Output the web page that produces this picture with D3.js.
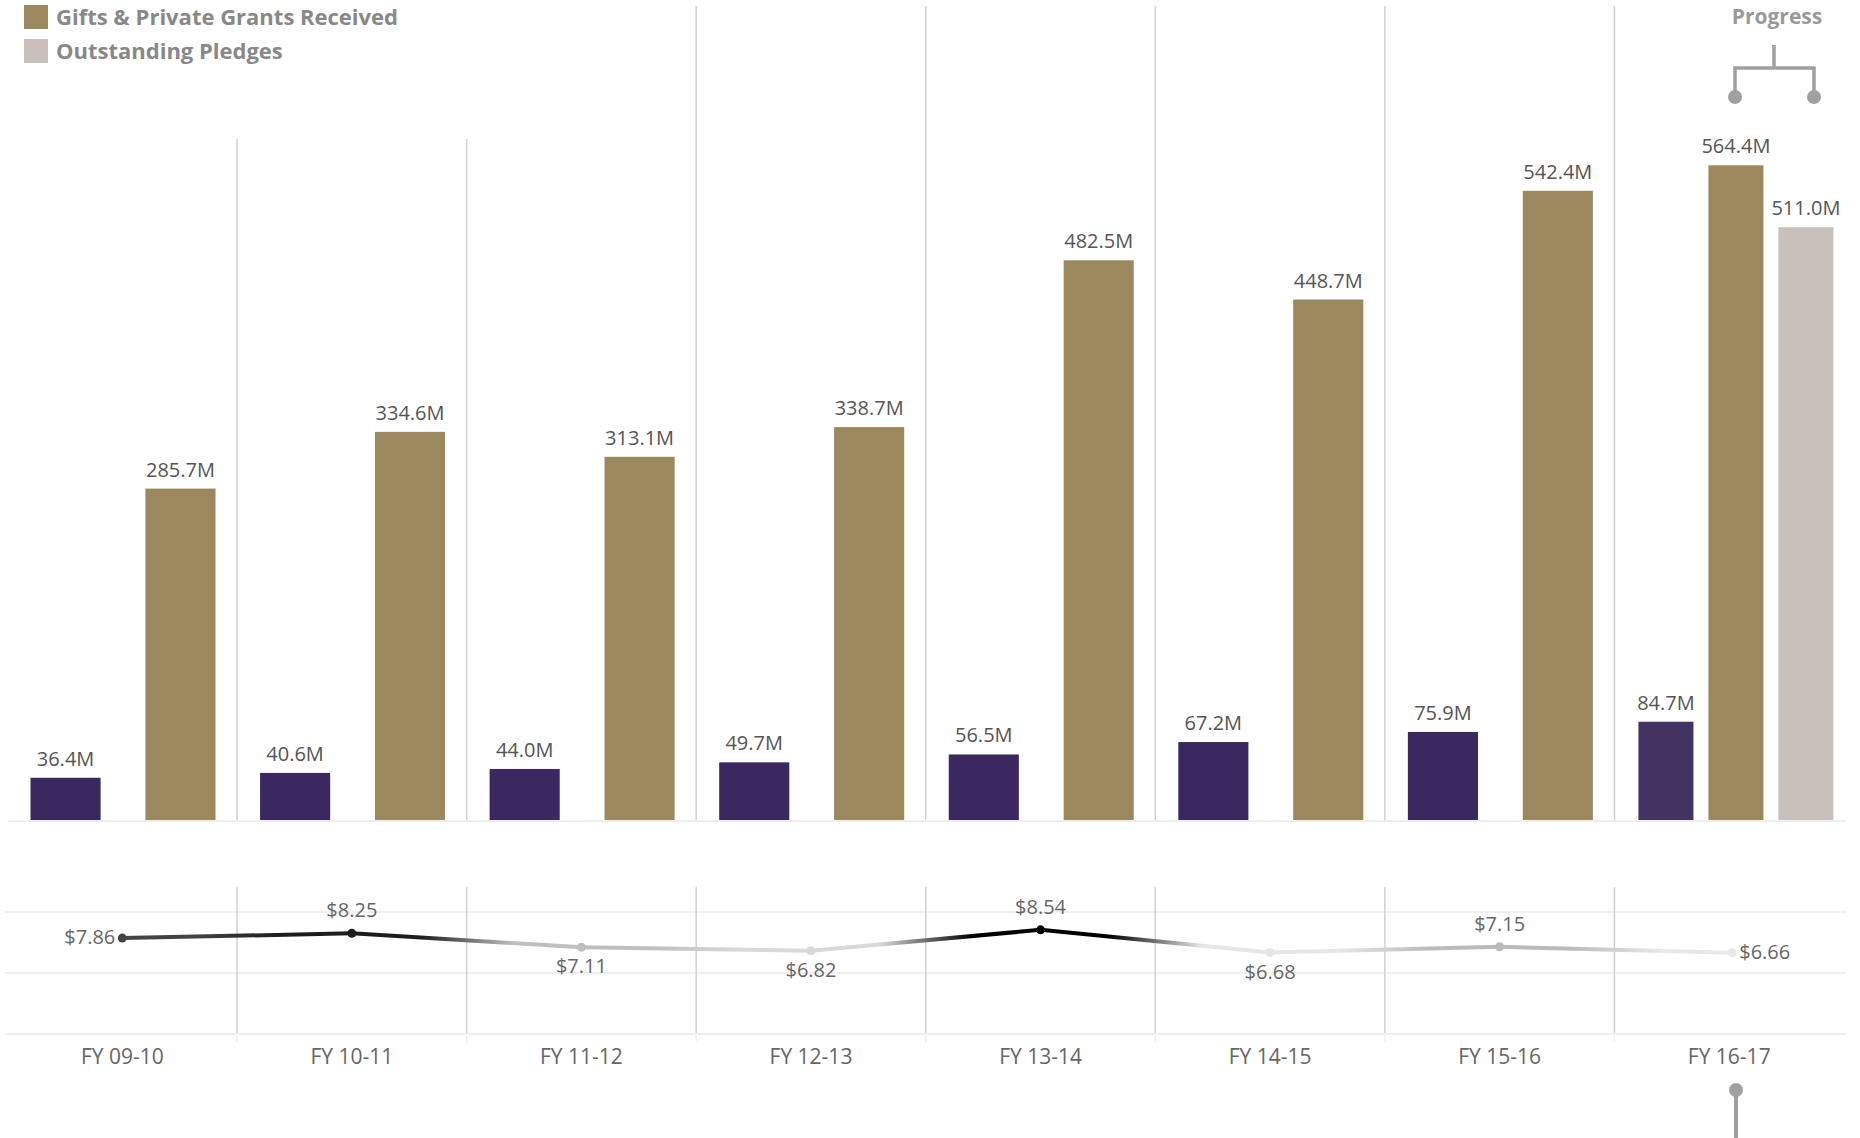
<!DOCTYPE html>
<html>
<head>
<meta charset="utf-8">
<script src="https://cdn.jsdelivr.net/npm/d3@7"></script>
<style>
  body { margin: 0; background: #fff; }
  svg { display: block; font-family: "Open Sans", sans-serif; }
</style>
</head>
<body>
<svg id="chart" width="1860" height="1138"></svg>
<script>
const categories = ["FY 09-10", "FY 10-11", "FY 11-12", "FY 12-13", "FY 13-14", "FY 14-15", "FY 15-16", "FY 16-17"];
const purpleValues = [36.4, 40.6, 44.0, 49.7, 56.5, 67.2, 75.9, 84.7];
const giftsReceived = [285.7, 334.6, 313.1, 338.7, 482.5, 448.7, 542.4, 564.4];
const outstandingPledges = [null, null, null, null, null, null, null, 511.0];
const ratioValues = [7.86, 8.25, 7.11, 6.82, 8.54, 6.68, 7.15, 6.66];
const ratioTicks = [0, 5, 10];

const legendItems = [
  { label: "Gifts & Private Grants Received", color: "#9b885d" },
  { label: "Outstanding Pledges", color: "#c8c0ba" }
];

const svg = d3.select("#chart");

const x = d3.scaleBand().domain(categories).range([7.5, 1844]).padding(0);
const y = d3.scaleLinear().domain([0, 600]).range([820, 124]);
const yLine = d3.scaleLinear().domain([0, 10]).range([1034, 912]);

const inner2 = d3.scaleBand().domain(["purple", "gift"]).range([23, 208]).paddingInner(0.39);
const inner3 = d3.scaleBand().domain(["purple", "gift", "pledge"]).range([24, 219]).paddingInner(0.214);

const barColor = { purple: "#3b2861", gift: "#9b885d", pledge: "#c8c0ba" };

// separators, upper panel
const bounds = categories.slice(1);
svg.append("g").selectAll("line").data(bounds).join("line")
  .attr("x1", d => x(d)).attr("x2", d => x(d))
  .attr("y1", (d, i) => i < 2 ? 139 : 6)
  .attr("y2", 820)
  .attr("stroke", "#d0d0d0").attr("stroke-width", 1.5);

// baseline
svg.append("line")
  .attr("x1", 8).attr("x2", 1846).attr("y1", y(0) + 1).attr("y2", y(0) + 1)
  .attr("stroke", "#eeeeee").attr("stroke-width", 2);

// bars
const barData = [];
categories.forEach((c, i) => {
  const last = outstandingPledges[i] != null;
  const sc = last ? inner3 : inner2;
  const rows = [{ key: "purple", value: purpleValues[i] }, { key: "gift", value: giftsReceived[i] }];
  if (last) rows.push({ key: "pledge", value: outstandingPledges[i] });
  rows.forEach(r => barData.push({
    cat: c, key: r.key, value: r.value,
    x0: x(c) + sc(r.key), w: sc.bandwidth(),
    fill: (last && r.key === "purple") ? "#433363" : barColor[r.key]
  }));
});

svg.append("g").selectAll("rect").data(barData).join("rect")
  .attr("x", d => d.x0)
  .attr("width", d => d.w)
  .attr("y", d => y(d.value))
  .attr("height", d => y(0) - y(d.value))
  .attr("fill", d => d.fill);

svg.append("g").selectAll("text").data(barData).join("text")
  .attr("x", d => d.x0 + d.w / 2)
  .attr("y", d => y(d.value) - 12)
  .attr("text-anchor", "middle")
  .attr("font-size", 20)
  .attr("fill", "#555")
  .text(d => d.value.toFixed(1) + "M");

// legend
const legend = svg.append("g").selectAll("g").data(legendItems).join("g")
  .attr("transform", (d, i) => `translate(24, ${5 + i * 34})`);
legend.append("rect").attr("width", 24).attr("height", 24).attr("fill", d => d.color);
legend.append("text")
  .attr("x", 32).attr("y", 20)
  .attr("font-size", 22).attr("font-weight", "bold").attr("fill", "#888")
  .text(d => d.label);

// progress bracket
svg.append("text")
  .attr("x", 1777).attr("y", 24)
  .attr("text-anchor", "middle")
  .attr("font-size", 21).attr("font-weight", "bold").attr("fill", "#999")
  .text("Progress");

const bracket = svg.append("g").attr("stroke", "#a0a0a0").attr("stroke-width", 3.5).attr("fill", "none");
bracket.append("path").attr("d", "M1774,45V68M1735,98V68H1814V98");
bracket.selectAll("circle").data([1735, 1814]).join("circle")
  .attr("cx", d => d).attr("cy", 97).attr("r", 7).attr("fill", "#a0a0a0").attr("stroke", "none");

// lower panel gridlines
svg.append("g").selectAll("line").data(ratioTicks).join("line")
  .attr("x1", 5).attr("x2", 1846)
  .attr("y1", d => yLine(d)).attr("y2", d => yLine(d))
  .attr("stroke", "#f0f0f0").attr("stroke-width", 2);

svg.append("g").selectAll("line").data(bounds).join("line")
  .attr("x1", d => x(d)).attr("x2", d => x(d))
  .attr("y1", 887).attr("y2", 1033)
  .attr("stroke", "#d0d0d0").attr("stroke-width", 1.5);
svg.append("g").selectAll("line").data(bounds).join("line")
  .attr("x1", d => x(d)).attr("x2", d => x(d))
  .attr("y1", 1033).attr("y2", 1042)
  .attr("stroke", "#f0f0f0").attr("stroke-width", 1.5);

// ratio line
const shade = d3.scaleLinear()
  .domain([6.66, 7.15, 7.86, 8.54])
  .range(["#e8e8e8", "#bbbbbb", "#444444", "#000000"])
  .clamp(true);

const pts = ratioValues.map((v, i) => ({
  v, i,
  px: x(categories[i]) + x.bandwidth() / 2 + (i === categories.length - 1 ? 3 : 0),
  py: yLine(v)
}));

const defs = svg.append("defs");
const segs = d3.pairs(pts);
segs.forEach(([a, b], i) => {
  const g = defs.append("linearGradient").attr("id", "seg" + i)
    .attr("gradientUnits", "userSpaceOnUse")
    .attr("x1", a.px).attr("y1", a.py).attr("x2", b.px).attr("y2", b.py);
  g.append("stop").attr("offset", 0.3).attr("stop-color", shade(a.v));
  g.append("stop").attr("offset", 0.7).attr("stop-color", shade(b.v));
});

svg.append("g").selectAll("line").data(segs).join("line")
  .attr("x1", d => d[0].px).attr("y1", d => d[0].py)
  .attr("x2", d => d[1].px).attr("y2", d => d[1].py)
  .attr("stroke", (d, i) => `url(#seg${i})`)
  .attr("stroke-width", 4)
  .attr("stroke-linecap", "round");

svg.append("g").selectAll("circle").data(pts).join("circle")
  .attr("cx", d => d.px).attr("cy", d => d.py).attr("r", 4.5)
  .attr("fill", d => shade(d.v));

const n = pts.length;
function place(d) {
  if (d.i === 0) return "left";
  if (d.i === n - 1) return "right";
  return d.v >= ratioValues[d.i - 1] ? "above" : "below";
}
svg.append("g").selectAll("text").data(pts).join("text")
  .attr("font-size", 20).attr("fill", "#666")
  .each(function(d) {
    const p = place(d);
    const t = d3.select(this);
    if (p === "left") t.attr("x", d.px - 7).attr("y", d.py + 6).attr("text-anchor", "end");
    else if (p === "right") t.attr("x", d.px + 7).attr("y", d.py + 6).attr("text-anchor", "start");
    else if (p === "above") t.attr("x", d.px).attr("y", d.py - 16).attr("text-anchor", "middle");
    else t.attr("x", d.px).attr("y", d.py + 26).attr("text-anchor", "middle");
  })
  .text(d => "$" + d.v.toFixed(2));

// x axis
const axis = svg.append("g").attr("transform", "translate(0,1064)")
  .call(d3.axisBottom(x).tickSize(0).tickPadding(0));
axis.select(".domain").remove();
axis.selectAll("text")
  .attr("dy", 0).attr("y", 0)
  .attr("font-size", 21).attr("font-family", "Open Sans").attr("fill", "#666");

// bottom marker
const marker = svg.append("g");
marker.append("line").attr("x1", 1736).attr("x2", 1736).attr("y1", 1090).attr("y2", 1138)
  .attr("stroke", "#a0a0a0").attr("stroke-width", 4);
marker.append("circle").attr("cx", 1736).attr("cy", 1090).attr("r", 7).attr("fill", "#a0a0a0");
</script>
</body>
</html>
